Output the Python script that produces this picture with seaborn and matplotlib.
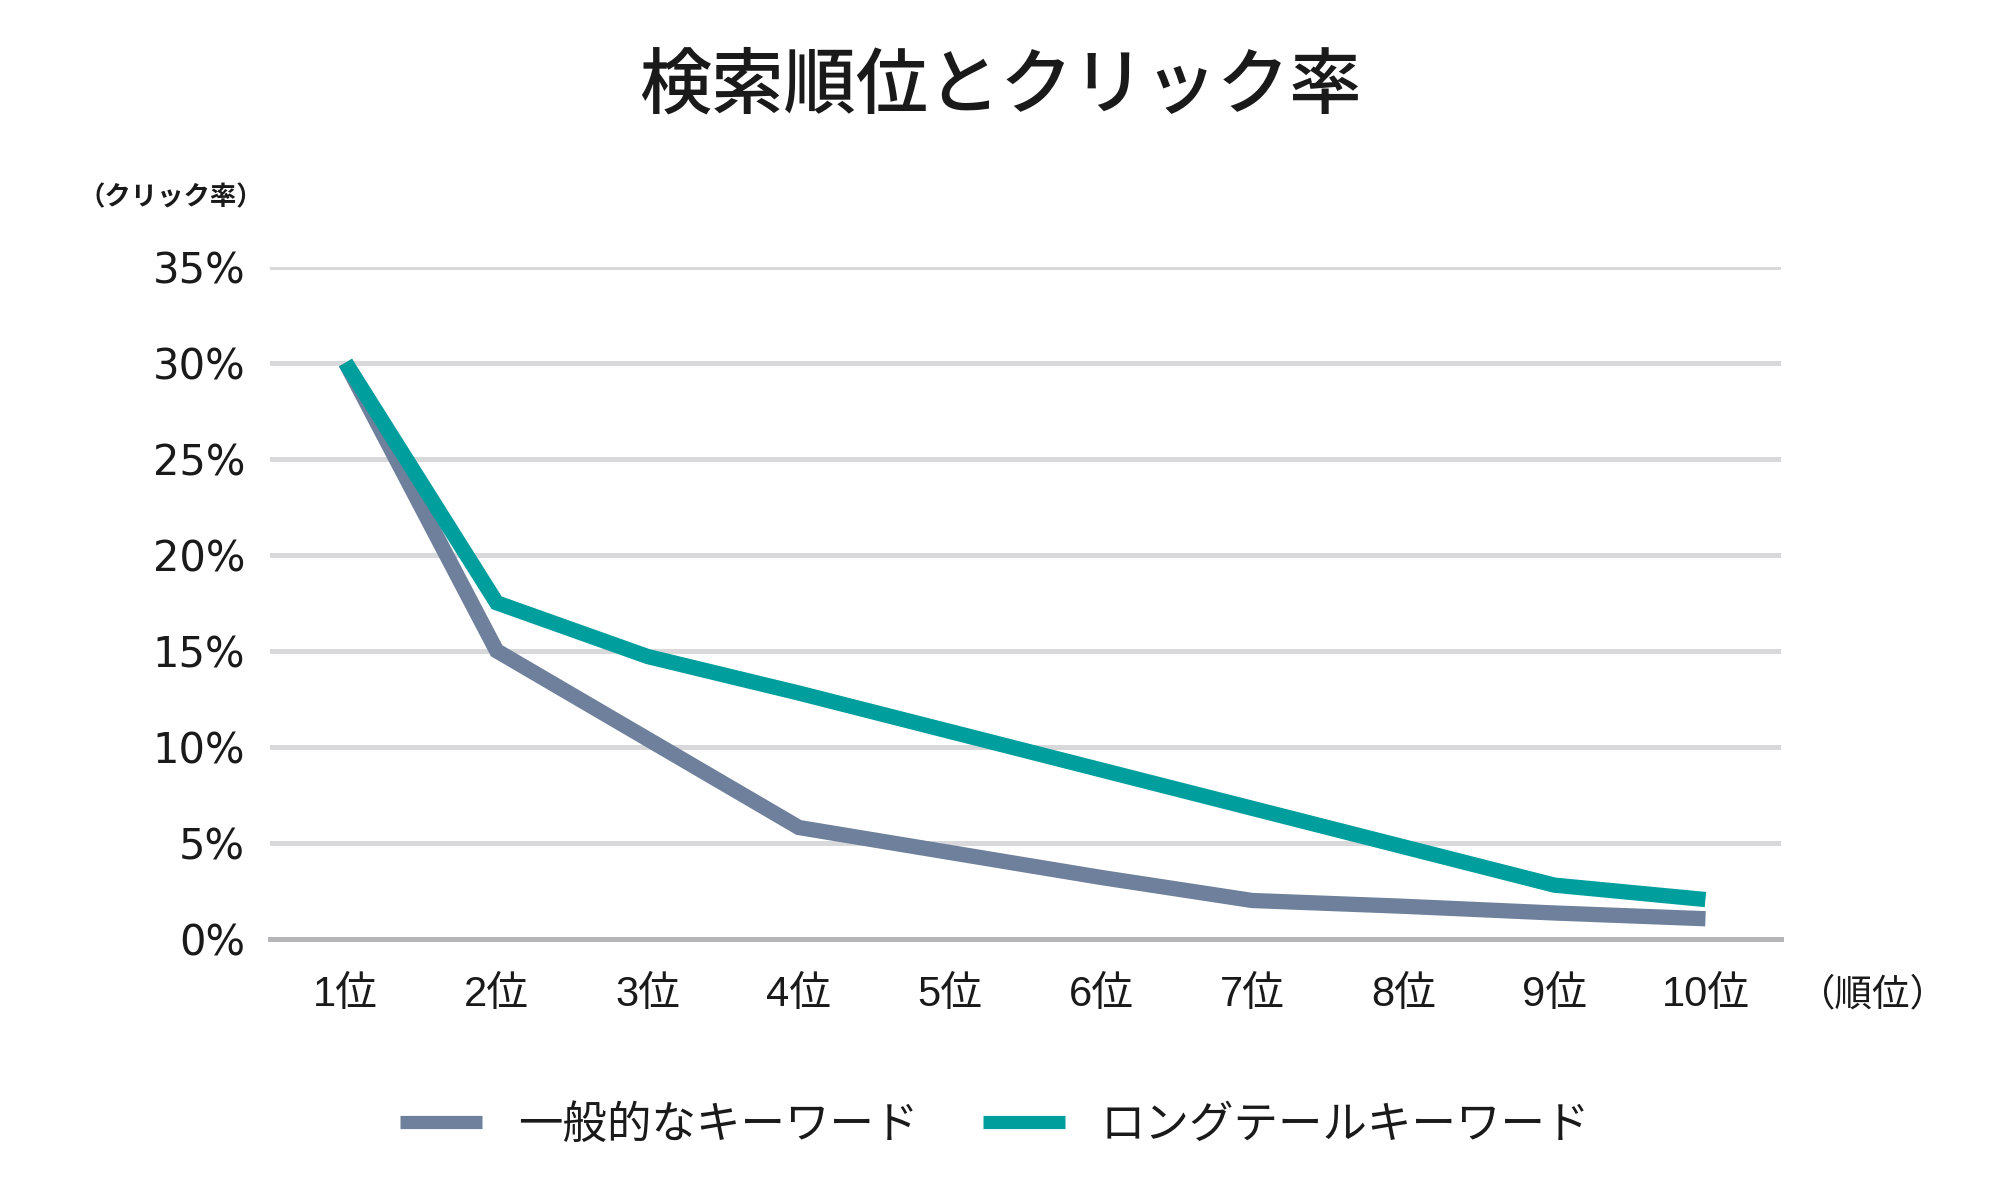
import pandas as pd
import matplotlib.pyplot as plt
import seaborn as sns
from matplotlib.lines import Line2D

# chart data
ranks = ["1位", "2位", "3位", "4位", "5位", "6位", "7位", "8位", "9位", "10位"]
general_ctr = [30.0, 15.0, 10.4, 5.8, 4.5, 3.2, 2.0, 1.7, 1.35, 1.05]
longtail_ctr = [30.0, 17.5, 14.7, 12.8, 10.8, 8.8, 6.8, 4.8, 2.8, 2.05]
series_names = ["一般的なキーワード", "ロングテールキーワード"]
y_ticks = [0, 5, 10, 15, 20, 25, 30, 35]

colors = ["#6E809B", "#009F9E"]

df = pd.DataFrame({
    "rank": ranks * 2,
    "ctr": general_ctr + longtail_ctr,
    "series": [series_names[0]] * len(ranks) + [series_names[1]] * len(ranks),
})

sns.set_style("white")
plt.rcParams['font.family'] = ['Noto Sans CJK JP', 'DejaVu Sans']
plt.rcParams['text.color'] = '#1a1a1a'

fig = plt.figure(figsize=(20, 11.84), dpi=100)
ax = fig.add_axes([0.135, 0.207, 0.7555, 0.5678])

sns.lineplot(data=df, x="rank", y="ctr", hue="series", palette=colors,
             linewidth=11, sort=False, legend=False, ax=ax,
             solid_capstyle='butt', solid_joinstyle='miter')
for ln in ax.lines:
    ln.set_clip_on(False)
    ln.set_zorder(3)

ax.set_xlim(-0.5, len(ranks) - 0.5)
ax.set_ylim(0, 35)
ax.set_yticks(y_ticks)
ax.set_yticklabels([f"{v}%" for v in y_ticks])
ax.set_xlabel("")
ax.set_ylabel("")

# grid and axis styling
ax.yaxis.grid(True, color='#D9D9DB', linewidth=3.6)
ax.xaxis.grid(False)
ax.set_axisbelow(True)
for side in ['top', 'left', 'right']:
    ax.spines[side].set_visible(False)
ax.spines['bottom'].set_color('#B5B5B7')
ax.spines['bottom'].set_linewidth(3.6)
ax.spines['bottom'].set_zorder(2)
ax.tick_params(axis='both', length=0, colors='#1a1a1a')
ax.tick_params(axis='y', pad=18)
ax.tick_params(axis='x', pad=26)
for lab in ax.get_yticklabels():
    lab.set_family(['DejaVu Sans', 'Noto Sans CJK JP'])
    lab.set_fontsize(30)
for lab in ax.get_xticklabels():
    lab.set_family(['Liberation Sans', 'Noto Sans CJK JP'])
    lab.set_fontsize(30)

# texts
fig.text(0.5, 0.9265, "検索順位とクリック率", ha='center', va='center',
         fontsize=52, fontweight='medium')
fig.text(0.0855, 0.8328, "（クリック率）", ha='center', va='center',
         fontsize=19, fontweight='bold')
fig.text(0.899, 0.1596, "（順位）", ha='left', va='center', fontsize=27)

# legend
handles = [Line2D([0], [0], color=c, lw=9.5, solid_capstyle='butt') for c in colors]
fig.legend(handles, series_names, loc='center', bbox_to_anchor=(0.4975, 0.05),
           ncol=2, frameon=False, fontsize=32, handlelength=1.85,
           handletextpad=0.8, columnspacing=1.45)

plt.savefig('out.png', dpi=100)
